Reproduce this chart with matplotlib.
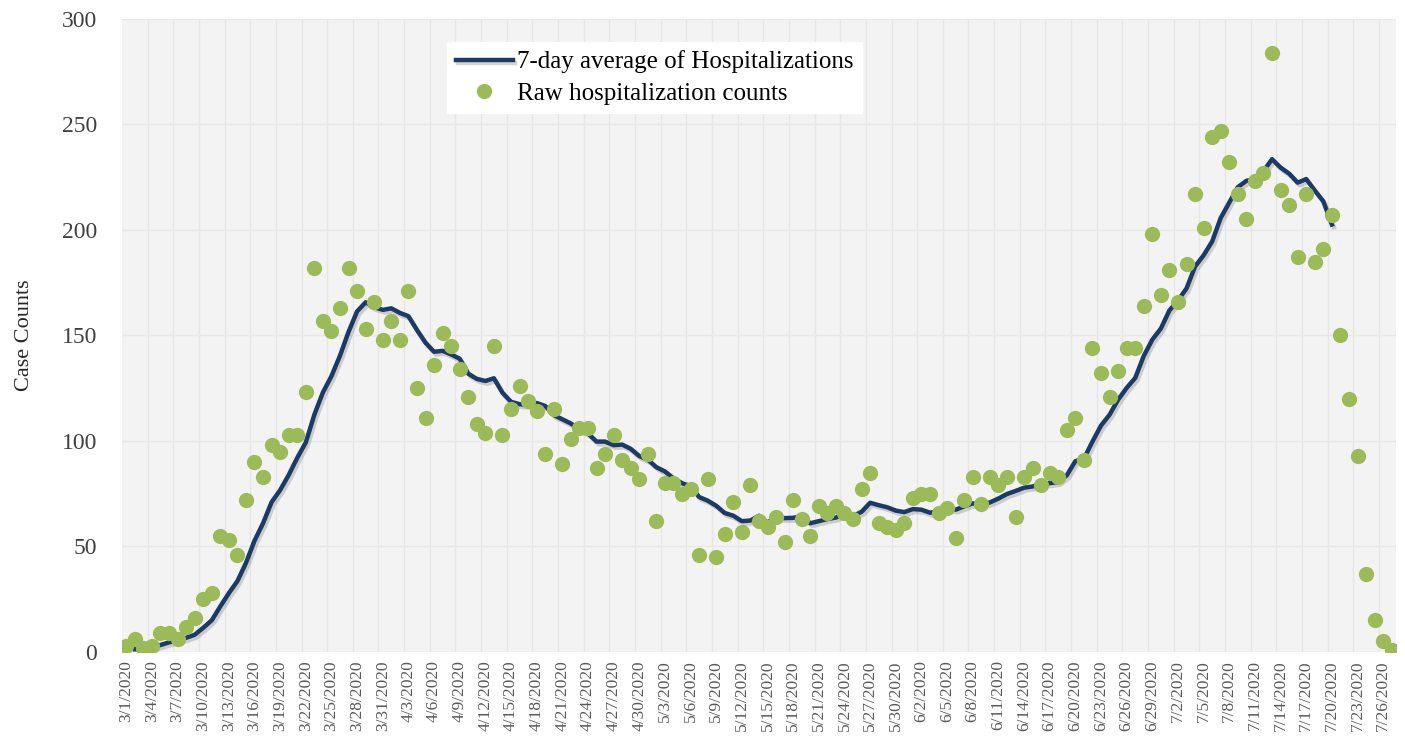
import numpy as np
import pandas as pd
import matplotlib
matplotlib.use("Agg")
import matplotlib.pyplot as plt
import matplotlib.patheffects as pe

# daily raw hospitalization counts, 3/1/2020 .. 7/27/2020
raw_counts = [
    3, 6, 2, 3, 9, 9, 6, 12, 16, 25, 28, 55, 53, 46, 72, 90, 83, 98, 95, 103,
    103, 123, 182, 157, 152, 163, 182, 171, 153, 166, 148, 157, 148, 171, 125, 111, 136, 151, 145, 134,
    121, 108, 104, 145, 103, 115, 126, 119, 114, 94, 115, 89, 101, 106, 106, 87, 94, 103, 91, 87,
    82, 94, 62, 80, 80, 75, 77, 46, 82, 45, 56, 71, 57, 79, 62, 59, 64, 52, 72, 63,
    55, 69, 66, 69, 66, 63, 77, 85, 61, 59, 58, 61, 73, 75, 75, 66, 68, 54, 72, 83,
    70, 83, 79, 83, 64, 83, 87, 79, 85, 83, 105, 111, 91, 144, 132, 121, 133, 144, 144, 164,
    198, 169, 181, 166, 184, 217, 201, 244, 247, 232, 217, 205, 223, 227, 284, 219, 212, 187, 217, 185,
    191, 207, 150, 120, 93, 37, 15, 5, 1,
]
dates = pd.date_range("2020-03-01", periods=len(raw_counts), freq="D")
avg_last_day = "2020-07-20"

raw = pd.Series(raw_counts, index=dates, dtype=float)
# 7-day average (days before 3/1 counted as zero), shown up to 7/20
avg = raw.rolling(7, min_periods=1).sum() / 7
avg = avg.loc["2020-03-02":avg_last_day]

x_raw = np.arange(len(raw))
x_avg = np.array([dates.get_loc(d) for d in avg.index])

tick_pos = x_raw[::3]
tick_labels = [f"{d.month}/{d.day}/{d.year}" for d in dates[::3]]

plt.rcParams["font.family"] = ["Liberation Serif", "DejaVu Serif"]

fig = plt.figure(figsize=(14.05, 7.44), dpi=100)
ax = fig.add_axes([0.0868, 0.1237, 0.9068, 0.8508])
ax.set_facecolor("#F3F3F3")

navy = "#1B3A66"
green = "#9BBB59"

ax.plot(x_avg, avg.values, color=navy, lw=3.2, zorder=3,
        label="7-day average of Hospitalizations",
        path_effects=[pe.SimpleLineShadow(offset=(1.5, -2), shadow_color="#444444", alpha=0.22),
                      pe.Normal()])
ax.plot(x_raw, raw.values, "o", color=green, ms=11, mec="none", zorder=4,
        label="Raw hospitalization counts")

ax.set_xlim(-0.5, len(raw) - 0.5)
ax.set_ylim(0, 300)
ax.set_yticks(range(0, 301, 50))
ax.set_xticks(tick_pos)
ax.set_xticklabels(tick_labels, rotation=90, fontsize=12.5, color="#595959")
ax.set_xticks(np.arange(2.5, len(raw), 3), minor=True)
ax.tick_params(axis="x", which="both", length=0, pad=6)
ax.tick_params(axis="y", length=0, labelsize=17, colors="#404040", pad=18)

ax.grid(False)
ax.grid(which="minor", axis="x", color="#E6E6E6", lw=1)
ax.grid(which="major", axis="y", color="#E8E8E8", lw=1)
ax.set_axisbelow(True)
for s in ax.spines.values():
    s.set_visible(False)

ax.set_ylabel("Case Counts", fontsize=16, color="#262626")
ax.yaxis.set_label_coords(-0.069, 0.5)

leg = ax.legend(loc="upper left", bbox_to_anchor=(0.255, 0.964), fontsize=18,
                frameon=True, fancybox=False, framealpha=1, edgecolor="white",
                handlelength=2.3, handletextpad=0.15, borderpad=0.35, labelspacing=0.35,
                borderaxespad=0)
leg.get_frame().set_facecolor("white")

fig.savefig("out.png", dpi=100)
